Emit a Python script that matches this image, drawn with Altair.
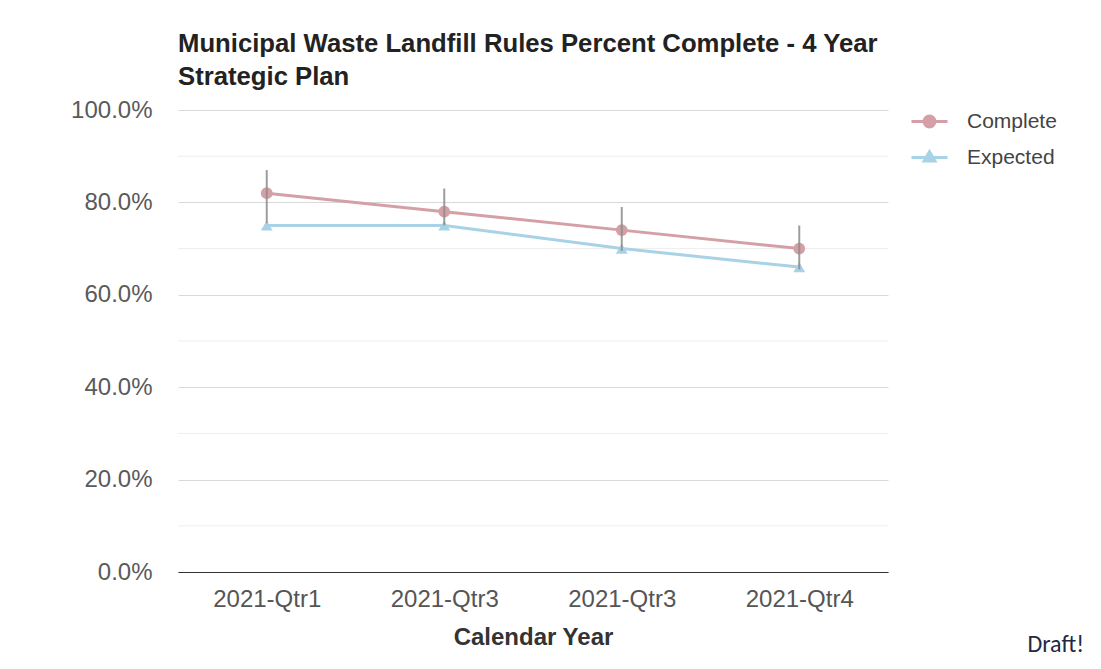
import json
import altair as alt
import pandas as pd

# ---- data ----
quarter_labels = ["2021-Qtr1", "2021-Qtr3", "2021-Qtr3", "2021-Qtr4"]
complete_pct = [82, 78, 74, 70]
expected_pct = [75, 75, 70, 66]
err_low_pct = [75.5, 75, 69.5, 65.5]
err_high_pct = [87, 83, 79, 75]
major_ticks = [0, 0.2, 0.4, 0.6, 0.8, 1.0]
minor_ticks = [0.1, 0.3, 0.5, 0.7, 0.9]
series_names = ["Complete", "Expected"]
series_colors = ["#d4a0a6", "#a8d3e6"]
series_shapes = ["circle", "triangle-up"]

idx = list(range(len(quarter_labels)))
df_c = pd.DataFrame({"qi": idx, "series": series_names[0], "value": [v / 100 for v in complete_pct]})
df_e = pd.DataFrame({"qi": idx, "series": series_names[1], "value": [v / 100 for v in expected_pct]})
err_df = pd.DataFrame({
    "qi": idx,
    "lo": [v / 100 for v in err_low_pct],
    "hi": [v / 100 for v in err_high_pct],
})
minor_df = pd.DataFrame({"v": minor_ticks})

FONT = "Liberation Sans"
label_expr = json.dumps(quarter_labels) + "[datum.value]"

x_scale = alt.Scale(type="point", padding=0.5)
x_enc = alt.X(
    "qi:O", scale=x_scale,
    axis=alt.Axis(
        title="Calendar Year", labelExpr=label_expr, labelAngle=0, ticks=False,
        labelPadding=15, labelFontSize=24, labelColor="#555555", labelFont=FONT,
        titleFontSize=24, titleFont=FONT, titleColor="#333333", titleFontWeight="bold",
        titlePadding=14, domainColor="#333333", domainWidth=1, grid=False,
    ),
)
y_scale = alt.Scale(domain=[0, 1], nice=False)
y_enc = alt.Y(
    "value:Q", scale=y_scale,
    axis=alt.Axis(
        title=None, format=".1%", values=major_ticks, domain=False, ticks=False,
        labelPadding=26, labelFontSize=24, labelColor="#5a5a5a", labelFont=FONT,
        gridColor="#d9d9d9", gridWidth=1,
    ),
)

legend_paths = {
    "circle": "M-1,0H1M0.3,0A0.3,0.3,0,1,1,-0.3,0A0.3,0.3,0,1,1,0.3,0Z",
    "triangle-up": "M-1,0H1M0,-0.32L0.3,0.2L-0.3,0.2Z",
}


def series_layer(df, name, color, shape, legend_y):
    cscale = alt.Scale(domain=[name], range=[color])
    legend = alt.Legend(
        title=None, orient="none", legendX=732, legendY=legend_y, labelFontSize=21,
        labelFont=FONT, labelColor="#444444", symbolSize=1296, labelOffset=18,
        padding=0, symbolType=legend_paths[shape], symbolFillColor=color,
        symbolStrokeColor=color, symbolStrokeWidth=3, symbolOpacity=1,
    )
    line = alt.Chart(df).mark_line(strokeWidth=3).encode(
        x=x_enc, y=y_enc, color=alt.Color("series:N", scale=cscale, legend=legend)
    )
    pts = alt.Chart(df).mark_point(filled=True, opacity=1, size=140, shape=shape).encode(
        x=alt.X("qi:O", scale=x_scale), y=alt.Y("value:Q", scale=y_scale),
        color=alt.Color("series:N", scale=cscale, legend=legend),
    )
    return alt.layer(line, pts)


minor = alt.Chart(minor_df).mark_rule(color="#eeeeee", strokeWidth=1).encode(
    y=alt.Y("v:Q", scale=y_scale)
)

layer_c = series_layer(df_c, series_names[0], series_colors[0], series_shapes[0], -8)
layer_e = series_layer(df_e, series_names[1], series_colors[1], series_shapes[1], 28)

errs = alt.Chart(err_df).mark_rule(color="#8c8c8c", strokeWidth=2, opacity=0.85).encode(
    x=alt.X("qi:O", scale=x_scale),
    y=alt.Y("lo:Q", scale=y_scale),
    y2="hi:Q",
)

draft = alt.Chart(pd.DataFrame({"t": ["Draft!"]})).mark_text(
    font="Carlito", fontSize=24, color="#1f2a44", align="right", baseline="bottom"
).encode(text="t:N", x=alt.value(906), y=alt.value(547))

chart = alt.layer(minor, layer_e, layer_c, errs, draft).resolve_scale(
    color="independent"
).properties(
    width=710, height=462,
    background="white",
    title=alt.TitleParams(
        text=["Municipal Waste Landfill Rules Percent Complete - 4 Year", "Strategic Plan"],
        anchor="start", frame="group", fontSize=25.7, font=FONT, fontWeight="bold",
        color="#222222", lineHeight=33, offset=7,
    ),
    padding={"left": 170, "top": 102, "right": 205, "bottom": 89},
    autosize=alt.AutoSizeParams(type="none"),
).configure_view(stroke=None)

chart.save("out.html", embed_options={"renderer": "svg", "actions": False})
